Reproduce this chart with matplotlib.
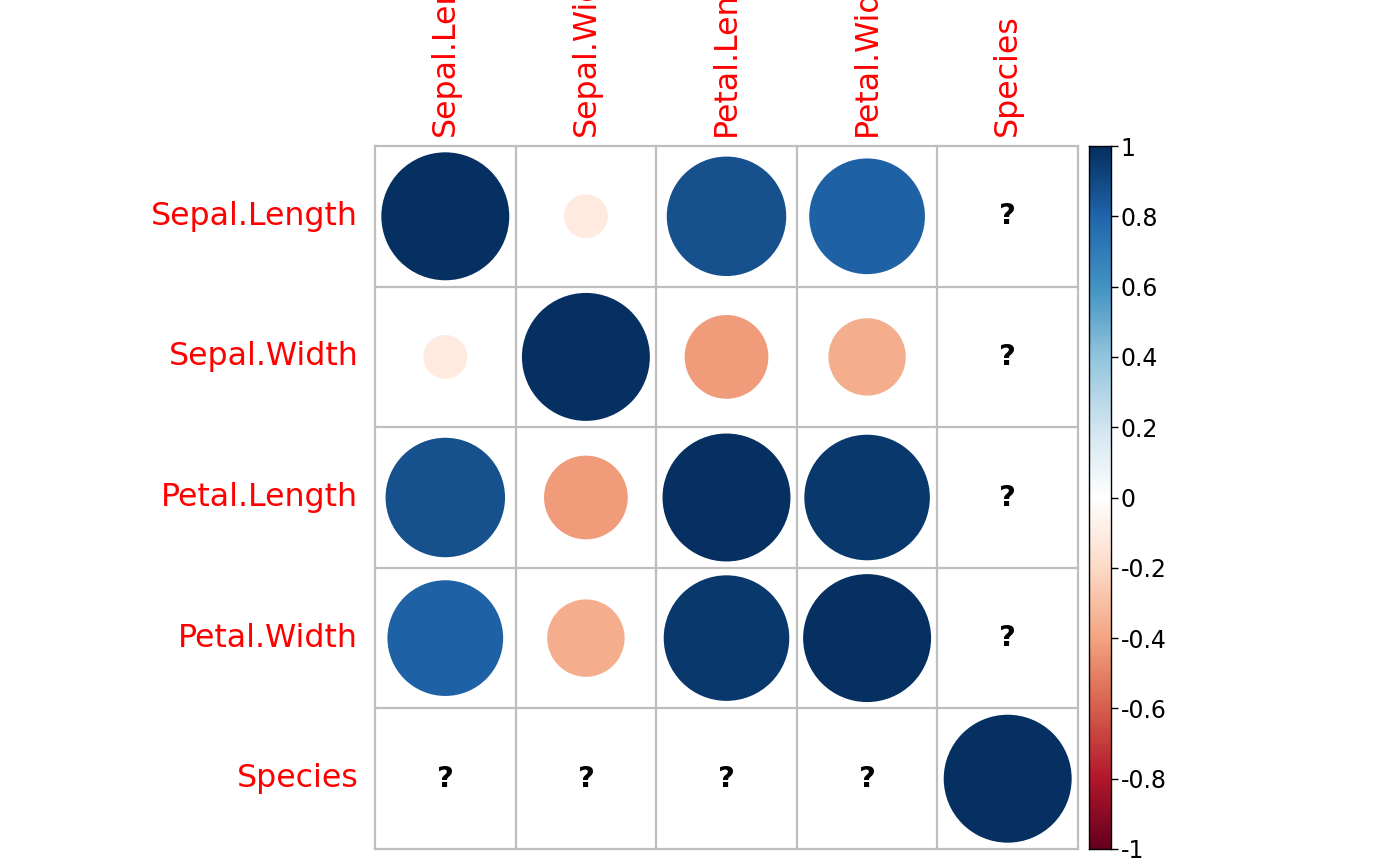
import numpy as np
import matplotlib
matplotlib.use("Agg")
import matplotlib.pyplot as plt
from matplotlib.patches import Circle
from matplotlib.colors import LinearSegmentedColormap, Normalize

variables = ["Sepal.Length", "Sepal.Width", "Petal.Length", "Petal.Width", "Species"]
corr = [
    [1.0, -0.1176, 0.8718, 0.8179, None],
    [-0.1176, 1.0, -0.4284, -0.3661, None],
    [0.8718, -0.4284, 1.0, 0.9629, None],
    [0.8179, -0.3661, 0.9629, 1.0, None],
    [None, None, None, None, 1.0],
]
cbar_ticks = [-1, -0.8, -0.6, -0.4, -0.2, 0, 0.2, 0.4, 0.6, 0.8, 1]
cbar_labels = ["-1", "-0.8", "-0.6", "-0.4", "-0.2", "0", "0.2", "0.4", "0.6", "0.8", "1"]

palette = ["#67001F", "#B2182B", "#D6604D", "#F4A582", "#FDDBC7", "#FFFFFF",
           "#D1E5F0", "#92C5DE", "#4393C3", "#2166AC", "#053061"]
cmap = LinearSegmentedColormap.from_list("rdbu200", palette, N=200)
norm = Normalize(-1, 1)

W, H = 1400, 866
fig = plt.figure(figsize=(W / 100, H / 100), dpi=100)

gx0, gx1, gy0, gy1 = 375, 1078, 146, 849
ax = fig.add_axes([gx0 / W, 1 - gy1 / H, (gx1 - gx0) / W, (gy1 - gy0) / H])
n = len(variables)
ax.set_xlim(0, n)
ax.set_ylim(n, 0)
ax.axis("off")

grid_col = "#BEBEBE"
for k in range(n + 1):
    ax.plot([k, k], [0, n], color=grid_col, lw=1.6, clip_on=False, zorder=1)
    ax.plot([0, n], [k, k], color=grid_col, lw=1.6, clip_on=False, zorder=1)

for i in range(n):
    for j in range(n):
        v = corr[i][j]
        if v is None:
            ax.text(j + 0.5, i + 0.5, "?", ha="center", va="center",
                    fontsize=21, fontweight="bold", color="black")
        else:
            r = 0.455 * np.sqrt(abs(v))
            ax.add_patch(Circle((j + 0.5, i + 0.5), r, facecolor=cmap(norm(v)),
                                edgecolor="none", zorder=2))

for i, name in enumerate(variables):
    ax.text(-0.12, i + 0.5, name, ha="right", va="center", fontsize=22.8,
            color="red", clip_on=False)
    ax.text(i + 0.5, -0.07, name, ha="center", va="bottom", rotation=90,
            fontsize=22.8, color="red", clip_on=False)

# colorbar
cx0, cx1 = 1089, 1111
cax = fig.add_axes([cx0 / W, 1 - gy1 / H, (cx1 - cx0) / W, (gy1 - gy0) / H])
grad = np.linspace(-1, 1, 200).reshape(-1, 1)
cax.imshow(grad, cmap=cmap, norm=norm, aspect="auto", origin="lower",
           extent=[0, 1, -1, 1])
cax.set_xlim(0, 1)
cax.set_ylim(-1, 1)
cax.set_xticks([])
cax.yaxis.tick_right()
cax.set_yticks(cbar_ticks)
cax.set_yticklabels(cbar_labels)
cax.tick_params(axis="y", length=5, width=1, labelsize=17, pad=2)
for s in cax.spines.values():
    s.set_linewidth(1)

fig.savefig("out.png", dpi=100)
